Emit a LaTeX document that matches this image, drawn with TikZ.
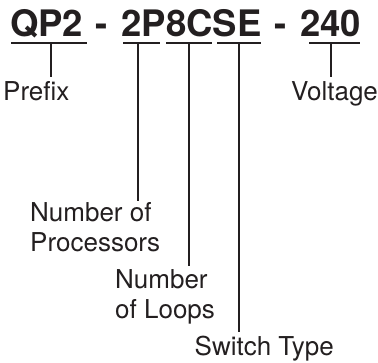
\documentclass[tikz,border=0pt]{standalone}
\usepackage{fontspec}
\setmainfont{TeX Gyre Heros}
\usetikzlibrary{positioning}
\definecolor{zink}{RGB}{35,31,32}

\begin{document}
\begin{tikzpicture}[x=1pt, y=-1pt,
  code/.style={anchor=base west, inner sep=0pt,
               font=\fontsize{36.5}{40}\selectfont\bfseries, text=zink},
  lbl/.style={anchor=base west, inner sep=0pt, align=left,
              font=\fontsize{26}{30}\selectfont, text=zink},
  bar/.style={line width=2pt, draw=zink},
  stem/.style={line width=2pt, draw=zink, shorten >=#1},
  stem/.default=3pt
]
\useasboundingbox (0,0) rectangle (378,362);
% Part number
\node[code]              (qp)    at (10,36.5)    {QP2};
\node[code, anchor=base] (dashA) at (102,36.5)   {-};
\node[code]              (mid)   at (121.5,36.5) {2P8CSE};
\node[code, anchor=base] (dashB) at (281,36.5)   {-};
\node[code]              (volt)  at (300,36.5)   {240};

% Underlines
\draw[bar] (11,43)  -- (87,43);
\draw[bar] (123,43) -- (160,43);
\draw[bar] (166,43) -- (212,43);
\draw[bar] (217,43) -- (261,43);
\draw[bar] (309,43) -- (360,43);

% Labels
\node[lbl] (lprefix) at (3,100.5)     {Prefix};
\node[lbl] (lvolt)   at (291,100.5)   {Voltage};
\node[lbl] (lproc)   at (30,251.7)    {Number of\\Processors};
\node[lbl] (lloops)  at (115,318)     {Number\\of Loops};
\node[lbl] (lswitch) at (194.5,355)   {Switch Type};

% Stems
\coordinate (sprefix) at (51,43);
\coordinate (sproc)   at (138,43);
\coordinate (sloops)  at (189,43);
\coordinate (sswitch) at (239,43);
\coordinate (svolt)   at (331,43);
\draw[stem=4pt] (sprefix) -- (sprefix |- lprefix.north);
\draw[stem=1pt] (sproc)   -- (sproc |- lproc.north);
\draw[stem]     (sloops)  -- (sloops |- lloops.north);
\draw[stem]     (sswitch) -- (sswitch |- lswitch.north);
\draw[stem=4pt] (svolt)   -- (svolt |- lvolt.north);
\end{tikzpicture}
\end{document}
